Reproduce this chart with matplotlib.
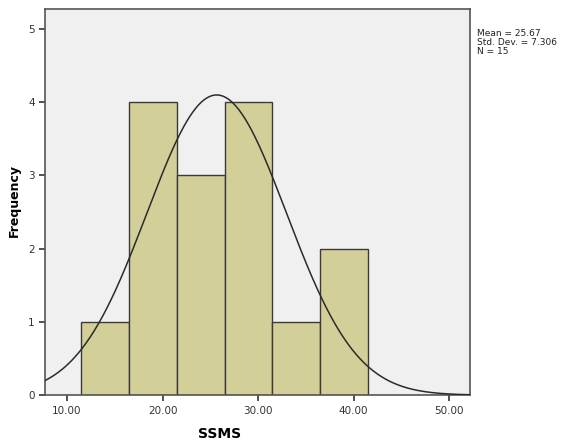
import numpy as np
import matplotlib.pyplot as plt

# histogram data (SPSS style)
bin_edges = [11.5, 16.5, 21.5, 26.5, 31.5, 36.5, 41.5]
counts = [1, 4, 3, 4, 1, 2]
mean = 25.67
sd = 7.306
n = 15

fig = plt.figure(figsize=(5.63, 4.43), dpi=100)
ax = fig.add_axes([0.080, 0.108, 0.755, 0.872])
ax.set_facecolor('#f0f0f0')

lefts = bin_edges[:-1]
widths = np.diff(bin_edges)
ax.bar(lefts, counts, width=widths, align='edge', color='#d3cf98',
       edgecolor='#3a3a3a', linewidth=1.0, zorder=2)

# normal curve scaled to counts
xs = np.linspace(7.7, 52.2, 400)
ys = n * widths[0] * np.exp(-0.5 * ((xs - mean) / sd) ** 2) / (sd * np.sqrt(2 * np.pi))
ax.plot(xs, ys, color='#2b2b2b', linewidth=1.1, zorder=3)

ax.set_xlim(7.7, 52.2)
ax.set_ylim(0, 5.27)
ax.set_xticks([10, 20, 30, 40, 50])
ax.set_xticklabels(['10.00', '20.00', '30.00', '40.00', '50.00'])
ax.set_yticks([0, 1, 2, 3, 4, 5])
ax.tick_params(axis='both', labelsize=7.5, colors='#333333', length=4, width=1.2)
for s in ax.spines.values():
    s.set_color('#555555')
    s.set_linewidth(1.2)

ax.set_xlabel('SSMS', fontsize=10, fontweight='bold', va='center')
ax.xaxis.set_label_coords(0.41, -0.10)
ax.set_ylabel('Frequency', fontsize=9, fontweight='bold', va='center')
ax.yaxis.set_label_coords(-0.071, 0.503)

fig.text(0.848, 0.935, 'Mean = 25.67\nStd. Dev. = 7.306\nN = 15',
         fontsize=6.5, va='top', ha='left', linespacing=1.0, color='#222222')

fig.savefig('out.png', dpi=100)
